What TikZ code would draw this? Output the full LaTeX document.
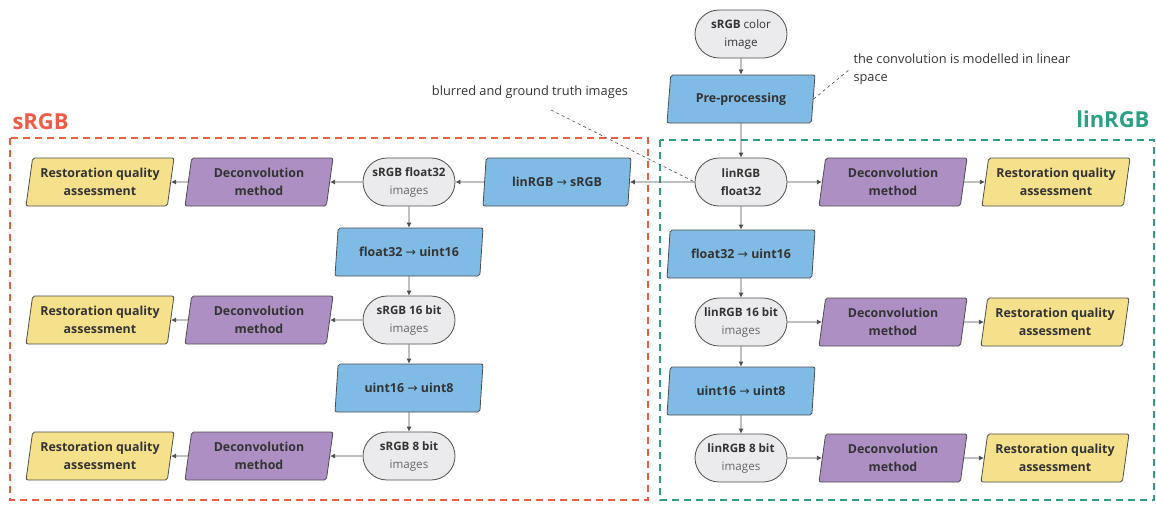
\documentclass[tikz,border=0pt]{standalone}
\usepackage{fontspec}
\setmainfont{Open Sans}
\newfontfamily\symfont{DejaVu Sans}
\usepackage{xcolor}
\usetikzlibrary{shapes.geometric,shapes.misc,arrows.meta,positioning}

\definecolor{stadfill}{HTML}{EBEBEE}
\definecolor{edgegray}{HTML}{4D4D4D}
\definecolor{convblue}{HTML}{80BBE6}
\definecolor{deconvpurple}{HTML}{AD8FC4}
\definecolor{assessyellow}{HTML}{F5E08B}
\definecolor{srgbred}{HTML}{EF5B44}
\definecolor{linteal}{HTML}{2E9E86}
\definecolor{txtdark}{HTML}{333333}
\definecolor{txtgray}{HTML}{666666}

\newcommand{\arr}{{\symfont\mdseries →}}
\newcommand{\imgs}{\textcolor{txtgray}{images}}

\tikzset{
  imgnode/.style={draw=edgegray, fill=stadfill, rounded rectangle, minimum width=100pt,
    minimum height=48pt, inner xsep=4pt, align=center, text=txtdark, line width=0.8pt,
    font=\fontsize{11.6}{18}\selectfont},
  para/.style={draw=edgegray, trapezium, trapezium left angle=79, trapezium right angle=101,
    trapezium stretches body, minimum width=148pt, minimum height=48pt, inner xsep=2pt,
    align=center, rounded corners=2pt, text=txtdark, line width=0.8pt,
    font=\bfseries\fontsize{12.4}{18}\selectfont},
  convbox/.style={para, fill=convblue},
  deconvbox/.style={para, fill=deconvpurple},
  assessbox/.style={para, fill=assessyellow},
  flow/.style={-{Latex[length=5pt,width=5pt]}, draw=edgegray, line width=0.8pt},
  note/.style={dashed, draw=edgegray, line width=0.6pt},
  notetext/.style={text=txtdark, font=\fontsize{12.8}{18}\selectfont},
  region/.style={dashed, line width=1.6pt, dash pattern=on 7pt off 5pt},
}

\begin{document}
\begin{tikzpicture}[x=1pt, y=-1pt, node distance=68pt]
\useasboundingbox (0,0) rectangle (1156,504);

% colour space regions
\draw[region, srgbred] (10,138) rectangle (648,500);
\draw[region, linteal] (660,140) rectangle (1154,500);
\node[anchor=west, text=srgbred, font=\bfseries\fontsize{22}{24}\selectfont] (srgblabel) at (9,122) {sRGB};
\node[anchor=east, text=linteal, font=\bfseries\fontsize{22}{24}\selectfont] (linlabel) at (1153,119) {linRGB};

% linear branch
\node[imgnode] (colorimg) at (741,34) {\textbf{sRGB} color\\image};
\node[convbox, below of=colorimg, node distance=65pt] (preproc) {Pre-processing};
\node[imgnode, below of=preproc, node distance=83pt] (linfloat) {\textbf{linRGB}\\\textbf{float32}};
\node[deconvbox, right of=linfloat, node distance=152pt] (lindeconvA) {Deconvolution\\method};
\node[assessbox, right of=lindeconvA, node distance=163pt] (linassessA) {Restoration quality\\assessment};
\node[convbox, below of=linfloat, node distance=72pt] (linconvA) {float32 \arr{} uint16};
\node[imgnode, below of=linconvA] (linsixteen) {\textbf{linRGB 16 bit}\\\imgs};
\node[deconvbox, right of=linsixteen, node distance=152pt] (lindeconvB) {Deconvolution\\method};
\node[assessbox, right of=lindeconvB, node distance=162pt] (linassessB) {Restoration quality\\assessment};
\node[convbox, below of=linsixteen, node distance=69pt] (linconvB) {uint16 \arr{} uint8};
\node[imgnode, below of=linconvB, node distance=67pt] (lineight) {\textbf{linRGB 8 bit}\\\imgs};
\node[deconvbox, right of=lineight, node distance=152pt] (lindeconvC) {Deconvolution\\method};
\node[assessbox, right of=lindeconvC, node distance=162pt] (linassessC) {Restoration quality\\assessment};

% sRGB branch
\node[convbox, left of=linfloat, node distance=184pt] (linsrgb) {linRGB \arr{} sRGB};
\node[imgnode, left of=linsrgb, node distance=148pt] (srgbfloat) {\textbf{sRGB float32}\\\imgs};
\node[deconvbox, left of=srgbfloat, node distance=150pt] (srgbdeconvA) {Deconvolution\\method};
\node[assessbox, left of=srgbdeconvA, node distance=159pt] (srgbassessA) {Restoration quality\\assessment};
\node[convbox, below of=srgbfloat, node distance=70pt] (srgbconvA) {float32 \arr{} uint16};
\node[imgnode, below of=srgbconvA] (srgbsixteen) {\textbf{sRGB 16 bit}\\\imgs};
\node[deconvbox, left of=srgbsixteen, node distance=150pt] (srgbdeconvB) {Deconvolution\\method};
\node[assessbox, left of=srgbdeconvB, node distance=159pt] (srgbassessB) {Restoration quality\\assessment};
\node[convbox, below of=srgbsixteen] (srgbconvB) {uint16 \arr{} uint8};
\node[imgnode, below of=srgbconvB] (srgbeight) {\textbf{sRGB 8 bit}\\\imgs};
\node[deconvbox, left of=srgbeight, node distance=150pt] (srgbdeconvC) {Deconvolution\\method};
\node[assessbox, left of=srgbdeconvC, node distance=159pt] (srgbassessC) {Restoration quality\\assessment};

% notes
\node[notetext, anchor=west, align=left] (convnote) at (850,69) {the convolution is modelled in linear\\space};
\node[notetext] (blurnote) at (530,92) {blurred and ground truth images};
\coordinate (blurtail) at (551,110);
\draw[note] (preproc.east) -- (convnote.west);
\draw[note] (blurtail) -- (linfloat.west);

% flows
\draw[flow] (colorimg) -- (preproc);
\draw[flow] (preproc) -- (linfloat);
\draw[flow] (linfloat) -- (lindeconvA);
\draw[flow] (lindeconvA) -- (linassessA);
\draw[flow] (linfloat) -- (linconvA);
\draw[flow] (linconvA) -- (linsixteen);
\draw[flow] (linsixteen) -- (lindeconvB);
\draw[flow] (lindeconvB) -- (linassessB);
\draw[flow] (linsixteen) -- (linconvB);
\draw[flow] (linconvB) -- (lineight);
\draw[flow] (lineight) -- (lindeconvC);
\draw[flow] (lindeconvC) -- (linassessC);
\draw[flow] (linfloat) -- (linsrgb);
\draw[flow] (linsrgb) -- (srgbfloat);
\draw[flow] (srgbfloat) -- (srgbdeconvA);
\draw[flow] (srgbdeconvA) -- (srgbassessA);
\draw[flow] (srgbfloat) -- (srgbconvA);
\draw[flow] (srgbconvA) -- (srgbsixteen);
\draw[flow] (srgbsixteen) -- (srgbdeconvB);
\draw[flow] (srgbdeconvB) -- (srgbassessB);
\draw[flow] (srgbsixteen) -- (srgbconvB);
\draw[flow] (srgbconvB) -- (srgbeight);
\draw[flow] (srgbeight) -- (srgbdeconvC);
\draw[flow] (srgbdeconvC) -- (srgbassessC);
\end{tikzpicture}
\end{document}
